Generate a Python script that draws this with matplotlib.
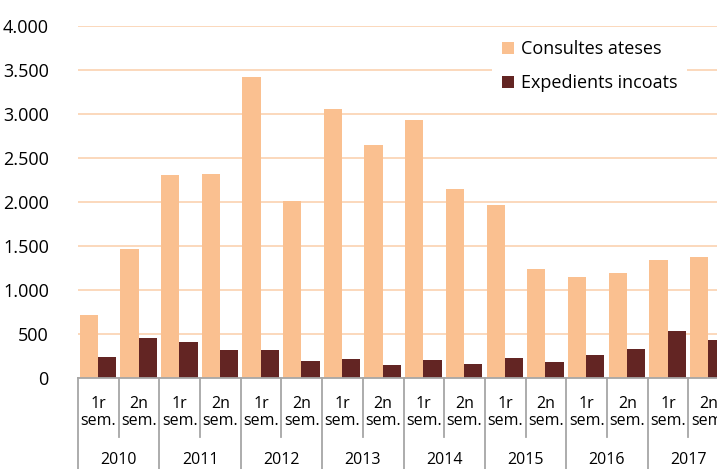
import numpy as np
import matplotlib.pyplot as plt
import matplotlib.transforms as mtransforms

plt.rcParams['font.family'] = ['Open Sans', 'DejaVu Sans']

# dades
years = ["2010", "2011", "2012", "2013", "2014", "2015", "2016", "2017"]
semesters = ["1r\nsem.", "2n\nsem."]
consultes = [715, 1470, 2310, 2320, 3420, 2010, 3060, 2650,
             2930, 2150, 1970, 1240, 1150, 1195, 1340, 1375]
expedients = [238, 455, 410, 318, 320, 193, 213, 150,
              203, 158, 225, 183, 262, 330, 535, 432]

col_consultes = "#FAC090"
col_expedients = "#632523"
col_grid = "#FBD6B6"
col_axis = "#A6A6A6"

fig = plt.figure(figsize=(7.17, 4.69), dpi=100)
# l'eix continua fora de la figura (el gràfic original està retallat)
ax = fig.add_axes([78 / 717, 91 / 469, 651 / 717, 352 / 469])

n = len(consultes)
x = np.arange(n) + 0.5
w = 0.45
ax.bar(x - w / 2 - 0.01, consultes, w, color=col_consultes, label="Consultes ateses", zorder=3)
ax.bar(x + w / 2 - 0.01, expedients, w, color=col_expedients, label="Expedients incoats", zorder=3)

ax.set_xlim(0, n)
ax.set_ylim(0, 4000)
ax.set_yticks(np.arange(0, 4001, 500))
ax.set_yticklabels([f"{int(v):,}".replace(",", ".") for v in np.arange(0, 4001, 500)], fontsize=13)
ax.tick_params(axis="y", length=0, pad=21)
ax.set_xticks([])
ax.yaxis.grid(True, color=col_grid, lw=1.3, zorder=0)
for s in ["top", "right", "left"]:
    ax.spines[s].set_visible(False)
ax.spines["bottom"].set_color(col_axis)
ax.spines["bottom"].set_linewidth(1.3)
ax.spines["bottom"].set_zorder(4)

# etiquetes de dos nivells
trans = mtransforms.blended_transform_factory(ax.transData, ax.transAxes)
for i in range(n + 1):
    if i % 2 == 0:
        ax.plot([i, i], [0, -0.26], color=col_axis, lw=1.3, transform=trans, clip_on=False)
    else:
        ax.plot([i, i], [0, -0.168], color=col_axis, lw=1.3, transform=trans, clip_on=False)
for i in range(n):
    ax.text(x[i], -0.097, semesters[i % 2], transform=trans, ha="center", va="center",
            fontsize=11.5, linespacing=1.1)
for j, yr in enumerate(years):
    ax.text(2 * j + 1, -0.233, yr, transform=trans, ha="center", va="center", fontsize=11.5)

leg = ax.legend(loc="upper left", bbox_to_anchor=(492 / 717, 1 - 30 / 469),
                bbox_transform=fig.transFigure, frameon=True, fancybox=False,
                edgecolor="none", facecolor="white", framealpha=1, fontsize=13,
                handlelength=0.65, handleheight=0.65, handletextpad=0.4,
                labelspacing=0.9, borderpad=0.55, borderaxespad=0)
leg.set_zorder(5)

fig.savefig("out.png", dpi=100)
